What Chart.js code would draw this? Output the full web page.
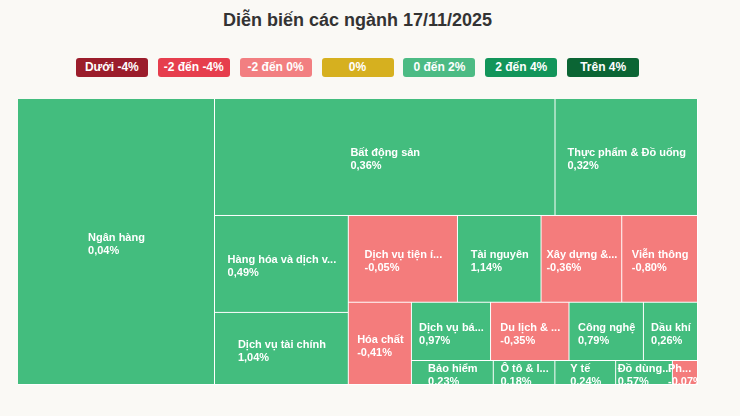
<!DOCTYPE html>
<html lang="vi">
<head>
<meta charset="utf-8">
<title>Diễn biến các ngành</title>
<script src="https://cdn.jsdelivr.net/npm/chart.js@4/dist/chart.umd.min.js"></script>
<style>
  html, body { margin: 0; padding: 0; }
  body {
    width: 740px; height: 416px; overflow: hidden;
    background: #faf9f5;
    font-family: "Liberation Sans", Arial, sans-serif;
  }
  #title {
    position: absolute; left: 0; top: 10px; width: 715px;
    text-align: center; font-weight: bold; font-size: 18px; line-height: 20px;
    color: #333;
  }
  #legend {
    position: absolute; left: 0; top: 58px; width: 715px;
    display: flex; justify-content: center; gap: 9.9px;
  }
  #legend span {
    width: 72px; height: 19px; border-radius: 3px;
    color: #fff; font-weight: bold; font-size: 12px; line-height: 19px;
    text-align: center;
  }
  #box { position: absolute; left: 18px; top: 99px; width: 680px; height: 286px; }
</style>
</head>
<body>
<div id="title">Diễn biến các ngành 17/11/2025</div>
<div id="legend"></div>
<div id="box"><canvas id="chart"></canvas></div>

<script>
// sectors, their weight in the map (%) and the change of the day (%)
const sectors = [
  "Ngân hàng", "Bất động sản", "Thực phẩm & Đồ uống",
  "Hàng hóa và dịch vụ công nghiệp", "Dịch vụ tài chính", "Dịch vụ tiện ích",
  "Tài nguyên", "Xây dựng & Vật liệu", "Viễn thông", "Hóa chất",
  "Dịch vụ bán lẻ", "Du lịch & Giải trí", "Công nghệ", "Dầu khí",
  "Bảo hiểm", "Ô tô & linh kiện", "Y tế", "Đồ dùng cá nhân & gia dụng",
  "Phương tiện truyền thông"
];
const weights = [
  28.97, 20.48, 8.57,
  6.67, 4.96, 4.87,
  3.73, 3.60, 3.38, 2.67,
  2.37, 2.35, 2.23, 1.62,
  1.01, 0.76, 0.75, 0.70,
  0.31
];
const changes = [
  0.04, 0.36, 0.32,
  0.49, 1.04, -0.05,
  1.14, -0.36, -0.80, -0.41,
  0.97, -0.35, 0.79, 0.26,
  0.23, 0.18, 0.24, 0.57,
  -0.07
];

// colour scale
const legendLabels = ["Dưới -4%", "-2 đến -4%", "-2 đến 0%", "0%", "0 đến 2%", "2 đến 4%", "Trên 4%"];
const legendColors = ["#9b1d2b", "#e63e4d", "#f27f81", "#d6b01f", "#4cbb84", "#12955a", "#0b6534"];

function colorFor(v) {
  if (v < -4) return legendColors[0];
  if (v < -2) return legendColors[1];
  if (v < 0) return "#f47c7c";
  if (v === 0) return legendColors[3];
  if (v <= 2) return "#43bd7e";
  if (v <= 4) return legendColors[5];
  return legendColors[6];
}

const legendEl = document.getElementById("legend");
legendLabels.forEach((txt, i) => {
  const s = document.createElement("span");
  s.textContent = txt;
  s.style.background = legendColors[i];
  legendEl.appendChild(s);
});

// ---------- layout: squarified, row direction alternates (column first) ----------
function squarify(values, W, H) {
  const total = values.reduce((s, v) => s + v, 0);
  const cells = [];
  let x = 0, y = 0, w = W, h = H, vertical = true;
  let row = [];
  const ratio = (a, b) => Math.max(a / b, b / a);
  const sumOf = r => r.reduce((s, it) => s + it.area, 0);

  function place(items) {
    const sum = sumOf(items);
    if (vertical) {
      const cw = sum / h;
      let cy = y;
      items.forEach(it => {
        const ch = it.area / cw;
        cells[it.i] = { x0: x, y0: cy, x1: x + cw, y1: cy + ch };
        cy += ch;
      });
      x += cw; w -= cw;
    } else {
      const rh = sum / w;
      let cx = x;
      items.forEach(it => {
        const cw = it.area / rh;
        cells[it.i] = { x0: cx, y0: y, x1: cx + cw, y1: y + rh };
        cx += cw;
      });
      y += rh; h -= rh;
    }
    vertical = !vertical;
  }

  values.forEach((v, i) => {
    const area = v / total * W * H;
    if (row.length) {
      const last = row[row.length - 1].area;
      const side = vertical ? h : w;
      const before = sumOf(row) / side;
      const after = (sumOf(row) + area) / side;
      if (ratio(after, last / after) > ratio(before, last / before)) {
        place(row);
        row = [];
      }
    }
    row.push({ i, area });
  });
  if (row.length) place(row);
  return cells;
}

// label helpers
function shortName(name, width) {
  const max = Math.max(1, Math.floor((width - 4) / 7.1));
  return name.length > max ? name.slice(0, max) + "..." : name;
}
function fmtPct(v) {
  return v.toFixed(2).replace(".", ",") + "%";
}

// ---------- Chart.js pieces ----------
class CellElement extends Chart.Element {
  static id = "cell";
  static defaults = { backgroundColor: "#43bd7e", borderColor: "#ffffff", borderWidth: 1 };

  draw(ctx) {
    const { x, y, width, height, options } = this;
    const bw = options.borderWidth;
    ctx.save();
    ctx.fillStyle = options.borderColor;
    ctx.fillRect(x, y, width, height);
    ctx.fillStyle = options.backgroundColor;
    ctx.fillRect(x, y, width - bw, height - bw);
    ctx.restore();
  }
}

class TreemapController extends Chart.DatasetController {
  static id = "treemap";
  static defaults = { datasetElementType: false, dataElementType: "cell" };

  update(mode) {
    const meta = this._cachedMeta;
    this.updateElements(meta.data, 0, meta.data.length, mode);
  }

  updateElements(cells, start, count, mode) {
    const { xScale, yScale } = this._cachedMeta;
    const W = Math.abs(xScale.getPixelForValue(100) - xScale.getPixelForValue(0));
    const H = Math.abs(yScale.getPixelForValue(100) - yScale.getPixelForValue(0));
    const rects = squarify(this.getDataset().data, W, H);
    for (let i = start; i < start + count; i++) {
      const r = rects[i];
      const left = xScale.getPixelForValue(r.x0 / W * 100);
      const right = xScale.getPixelForValue(r.x1 / W * 100);
      const top = yScale.getPixelForValue(r.y0 / H * 100);
      const bottom = yScale.getPixelForValue(r.y1 / H * 100);
      this.updateElement(cells[i], i, {
        x: left, y: top, width: right - left, height: bottom - top,
        options: this.resolveDataElementOptions(i, mode)
      }, mode);
    }
  }

  draw() {
    super.draw();
    const ctx = this._ctx;
    const meta = this._cachedMeta;
    ctx.save();
    ctx.font = 'bold 11px "Liberation Sans", Arial, sans-serif';
    ctx.fillStyle = "#ffffff";
    ctx.textAlign = "left";
    ctx.textBaseline = "alphabetic";
    meta.data.forEach((el, i) => {
      const lines = [shortName(sectors[i], el.width), fmtPct(changes[i])];
      const w = Math.max(...lines.map(l => ctx.measureText(l).width));
      const left = el.x + el.width / 2 - w / 2;
      const cy = el.y + el.height / 2;
      ctx.fillText(lines[0], left, cy - 1);
      ctx.fillText(lines[1], left, cy + 12);
    });
    ctx.restore();
  }
}

Chart.register(CellElement, TreemapController);

new Chart(document.getElementById("chart"), {
  type: "treemap",
  data: {
    labels: sectors,
    datasets: [{
      data: weights,
      backgroundColor: ctx => colorFor(changes[ctx.dataIndex]),
      borderColor: "#ffffff",
      borderWidth: 1
    }]
  },
  options: {
    responsive: true,
    maintainAspectRatio: false,
    animation: false,
    events: [],
    layout: { padding: 0 },
    scales: {
      x: { type: "linear", min: 0, max: 100, display: false },
      y: { type: "linear", min: 0, max: 100, reverse: true, display: false }
    },
    plugins: { legend: { display: false }, tooltip: { enabled: false } }
  }
});
</script>
</body>
</html>
